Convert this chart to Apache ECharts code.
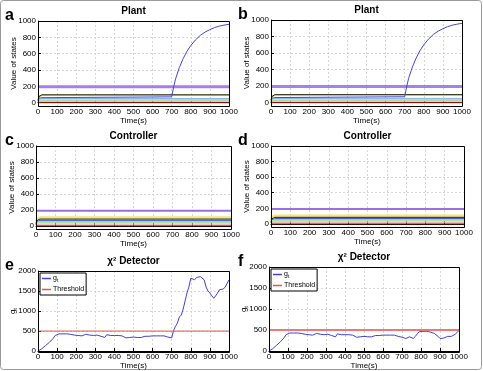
<!DOCTYPE html>
<html>
<head>
<meta charset="utf-8">
<script src="https://cdn.jsdelivr.net/npm/echarts@6/dist/echarts.min.js"></script>
<style>
html, body { margin: 0; padding: 0; background: #fff; }
#chart { width: 483px; height: 371px; }
</style>
</head>
<body>
<div id="chart"></div>
<script>
// time ticks / labels
var timeTicks = [0, 100, 200, 300, 400, 500, 600, 700, 800, 900, 1000];
var stateTicks = [0, 200, 400, 600, 800, 1000];
var gtTicks = [0, 500, 1000, 1500, 2000];

// flat states (plant & controller), sampled at these times
var flatT = [0, 5, 10, 20, 1000];
var plantPurple = [195, 195, 195, 195, 195];
var plantBlack = [30, 75, 92, 97, 97];
var plantYellow = [20, 70, 88, 92, 92];
var plantLightBlue = [10, 35, 48, 52, 52];
var plantGreen = [5, 22, 30, 32, 32];
var plantPink = [0, 10, 16, 18, 18];
var plantRed = [0, 0, 0, 0, 0];
// the attacked state that drifts away after t=700
var plantBlueT = [0, 5, 10, 20, 700, 710, 720, 740, 760, 780, 800, 825, 850, 875, 900, 925, 950, 975, 1000];
var plantBlue = [50, 55, 60, 62, 72, 190, 290, 430, 540, 630, 700, 770, 825, 865, 895, 920, 938, 950, 960];

var ctrlPurple = [190, 190, 190, 190, 190];
var ctrlYellow = [30, 80, 97, 100, 100];
var ctrlBlack = [20, 65, 80, 84, 84];
var ctrlBlue = [15, 50, 64, 68, 68];
var ctrlLightBlue = [10, 40, 52, 55, 55];
var ctrlGreen = [8, 30, 40, 42, 42];
var ctrlPink = [4, 12, 18, 20, 20];
var ctrlRed = [0, 0, 0, 0, 0];

// chi-square detector g_t, every 10 s
var gtBase = [0, 30, 60, 100, 140, 180, 220, 260, 320, 390,
  420, 430, 440, 430, 440, 430, 430, 420, 400, 400,
  410, 390, 400, 380, 390, 420, 410, 400, 400, 390,
  380, 400, 390, 370, 390, 340, 410, 400, 390, 400,
  390, 380, 390, 370, 380, 390, 330, 350, 340, 330,
  350, 330, 340, 350, 340, 360, 370, 380, 370, 360,
  380, 370, 380, 390, 380, 370, 380, 390, 350, 310];
var gtAttackE = [330, 520, 620, 700, 850, 900, 1050, 1250, 1450, 1600,
  1820, 1860, 1780, 1840, 1820, 1860, 1840, 1780, 1600, 1500,
  1450, 1380, 1320, 1380, 1450, 1530, 1500, 1550, 1600, 1560, 1780];
var gtAttackF = [330, 320, 300, 320, 340, 330, 300, 350, 380, 460,
  490, 470, 480, 470, 480, 450, 430, 420, 400, 350,
  300, 290, 310, 330, 350, 360, 350, 370, 400, 440, 490];
var thrT = [0, 1000];
var thrV = [500, 500];

var FONT = 'Liberation Sans';

function zip(t, v) {
  return t.map(function (x, i) { return [x, v[i]]; });
}
function plain(v) { return String(v); }
var detT = [];
for (var k = 0; k <= 1000; k += 10) detT.push(k);

var panels = [
  { id: 'a', left: 38, top: 21, width: 191, height: 85, title: 'Plant', kind: 'plant' },
  { id: 'b', left: 271, top: 20, width: 191, height: 86, title: 'Plant', kind: 'plant' },
  { id: 'c', left: 36, top: 146, width: 195, height: 83, title: 'Controller', kind: 'ctrl' },
  { id: 'd', left: 271, top: 146, width: 193, height: 81, title: 'Controller', kind: 'ctrl' },
  { id: 'e', left: 38, top: 271, width: 191, height: 81, title: 'χ² Detector', kind: 'det', gt: gtAttackE },
  { id: 'f', left: 269, top: 267, width: 190, height: 85, title: 'χ² Detector', kind: 'det', gt: gtAttackF }
];

var grids = [], xAxes = [], yAxes = [], series = [], titles = [], legends = [], graphics = [];

function addLine(gi, name, data, color, width) {
  series.push({
    type: 'line', name: name, xAxisIndex: gi, yAxisIndex: gi,
    data: data, showSymbol: false, symbol: 'none', animation: false,
    lineStyle: { color: color, width: width }, itemStyle: { color: color }
  });
}

panels.forEach(function (p, i) {
  grids.push({ left: p.left, top: p.top, width: p.width, height: p.height });
  // solid axes box drawn above the dotted grid
  graphics.push({
    type: 'rect', z: 50, silent: true,
    shape: { x: p.left + 0.5, y: p.top + 0.5, width: p.width, height: p.height },
    style: { fill: 'none', stroke: '#000', lineWidth: 1 }
  });
  xAxes.push({
    type: 'value', gridIndex: i, min: 0, max: 1000, interval: 100,
    name: 'Time(s)', nameLocation: 'middle', nameGap: 8,
    nameTextStyle: { fontFamily: FONT, fontSize: 8, color: '#000' },
    axisLine: { show: true, lineStyle: { color: '#000' } },
    axisTick: { inside: true, length: 3, lineStyle: { color: '#000' } },
    axisLabel: { fontFamily: FONT, fontSize: 8, color: '#000', margin: 2, hideOverlap: false, formatter: plain },
    splitLine: { show: true, lineStyle: { color: '#d6d6d6', type: [2, 2] } }
  });
  var det = p.kind === 'det';
  yAxes.push({
    type: 'value', gridIndex: i,
    min: det ? 0 : -40, max: det ? 2000 : 1000,
    name: det ? 'g{s|t}' : 'Value of states', nameLocation: 'middle', nameGap: 20,
    nameMoveOverlap: false,
    nameTextStyle: { fontFamily: FONT, fontSize: 8, color: '#000',
      rich: { s: { fontFamily: FONT, fontSize: 6, color: '#000', padding: [5, 0, 0, 0] } } },
    axisLine: { show: true, lineStyle: { color: '#000' } },
    axisTick: { inside: true, length: 3, lineStyle: { color: '#000' }, customValues: det ? gtTicks : stateTicks },
    axisLabel: { fontFamily: FONT, fontSize: 8, color: '#000', margin: 2, formatter: plain,
      customValues: det ? gtTicks : stateTicks },
    splitLine: { show: true, lineStyle: { color: '#d6d6d6', type: [2, 2] } }
  });
  titles.push({
    text: p.title, left: p.left + p.width / 2, top: p.top - 15, textAlign: 'center', padding: 0,
    textStyle: { fontFamily: FONT, fontSize: 10, fontWeight: 'bold', color: '#000' }
  });
  graphics.push({
    type: 'text', left: p.id === 'a' || p.id === 'c' || p.id === 'e' ? 5 : 238,
    top: p.top - 13,
    style: { text: p.id, font: 'bold 16px ' + FONT, fill: '#000' }
  });

  if (p.kind === 'plant') {
    addLine(i, 'p1', zip(flatT, plantPurple), '#a77fe8', 3);
    addLine(i, 'p2', zip(flatT, plantYellow), '#e6dc2a', 1.5);
    addLine(i, 'p3', zip(flatT, plantBlack), '#222222', 1);
    addLine(i, 'p4', zip(flatT, plantLightBlue), '#86b4e6', 1);
    addLine(i, 'p5', zip(flatT, plantGreen), '#a6e8a0', 2);
    addLine(i, 'p6', zip(flatT, plantPink), '#f2aaaa', 1);
    addLine(i, 'p7', zip(flatT, plantRed), '#a11d1d', 1);
    addLine(i, 'p8', zip(plantBlueT, plantBlue), '#4646d8', 1);
  } else if (p.kind === 'ctrl') {
    addLine(i, 'c1', zip(flatT, ctrlPurple), '#9c6fe0', 2);
    addLine(i, 'c2', zip(flatT, ctrlYellow), '#efe878', 3);
    addLine(i, 'c3', zip(flatT, ctrlBlack), '#222222', 1);
    addLine(i, 'c4', zip(flatT, ctrlBlue), '#4646d8', 1);
    addLine(i, 'c5', zip(flatT, ctrlLightBlue), '#86b4e6', 1);
    addLine(i, 'c6', zip(flatT, ctrlGreen), '#a6e8a0', 2);
    addLine(i, 'c7', zip(flatT, ctrlPink), '#f2aaaa', 1);
    addLine(i, 'c8', zip(flatT, ctrlRed), '#a11d1d', 1);
  } else {
    var gt = gtBase.concat(p.gt);
    addLine(i, 'gt', zip(detT, gt), '#4141d6', 1);
    addLine(i, 'Threshold', zip(thrT, thrV), p.id === 'e' ? '#d9594a' : '#e87a7a', p.id === 'e' ? 1 : 2);
    legends.push({
      data: [{ name: 'gt', icon: 'rect' }, { name: 'Threshold', icon: 'rect' }],
      orient: 'vertical', left: p.left + 2, top: p.top + 2,
      itemWidth: 9, itemHeight: 1.5, itemGap: 3, padding: [2, 2, 2, 2],
      borderColor: '#000', borderWidth: 1, backgroundColor: '#fff',
      selectedMode: false,
      formatter: function (n) { return n === 'gt' ? '{g|g}{s|t}' : n; },
      textStyle: { fontFamily: FONT, fontSize: 7, color: '#000', padding: [0, 0, 0, -3],
        rich: { g: { fontFamily: FONT, fontSize: 7, color: '#000' },
                s: { fontFamily: FONT, fontSize: 5, color: '#000', padding: [4, 0, 0, 0] } } }
    });
  }
});

graphics.push({
  type: 'rect', z: -1, silent: true,
  shape: { x: 0.5, y: 0.5, width: 481, height: 369, r: 3 },
  style: { fill: 'none', stroke: '#9a9a9a', lineWidth: 1 }
});

var chart = echarts.init(document.getElementById('chart'), null, { renderer: 'canvas' });
chart.setOption({
  animation: false,
  backgroundColor: '#fff',
  title: titles,
  legend: legends,
  grid: grids,
  xAxis: xAxes,
  yAxis: yAxes,
  series: series,
  graphic: graphics
});
</script>
</body>
</html>
